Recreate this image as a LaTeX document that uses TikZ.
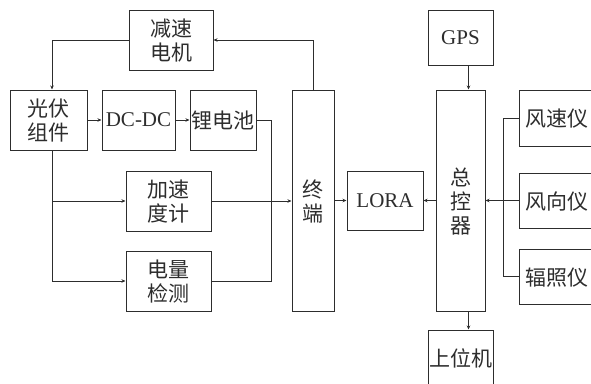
\documentclass[tikz,border=0pt]{standalone}
\usepackage{fontspec}
\setmainfont{Liberation Serif}
\newfontfamily\cjk{Noto Sans CJK SC}
\usetikzlibrary{arrows.meta}
\definecolor{ink}{RGB}{45,45,45}
\begin{document}
\begin{tikzpicture}[x=1pt,y=-1pt,
  box/.style={draw=ink, line width=1pt, inner sep=0pt, text=ink, align=center,
    font=\fontsize{21}{24}\selectfont, text depth=0pt},
  wire/.style={draw=ink, line width=1pt},
  arr/.style={wire, -{Stealth[length=4pt,width=3.5pt]}}]
\useasboundingbox (0,0) rectangle (591,383);
% nodes
\node[box, minimum width=84pt, minimum height=60pt] (jsdj) at (171,40) {\cjk 减速\\\cjk 电机};
\node[box, minimum width=77pt, minimum height=60pt] (gf) at (48.5,120) {\cjk 光伏\\\cjk 组件};
\node[box, minimum width=73pt, minimum height=60pt] (dcdc) at (138.5,120) {DC-DC};
\node[box, minimum width=66pt, minimum height=60pt] (ldc) at (223,120) {\cjk 锂电池};
\node[box, minimum width=85pt, minimum height=60pt] (jsd) at (168.5,201) {\cjk 加速\\\cjk 度计};
\node[box, minimum width=85pt, minimum height=60pt] (dljc) at (168.5,281) {\cjk 电量\\\cjk 检测};
\node[box, minimum width=42pt, minimum height=221pt] (zd) at (313,200.5) {\cjk 终\\\cjk 端};
\node[box, minimum width=76pt, minimum height=59pt] (lora) at (385,200.5) {LORA};
\node[box, minimum width=65pt, minimum height=55pt] (gps) at (460.5,37.5) {GPS};
\node[box, minimum width=49pt, minimum height=221pt] (zkq) at (460.5,200.5) {\cjk 总\\\cjk 控\\\cjk 器};
\node[box, minimum width=75pt, minimum height=56pt] (fsy) at (556.5,118) {\cjk 风速仪};
\node[box, minimum width=75pt, minimum height=55pt] (fxy) at (556.5,200.5) {\cjk 风向仪};
\node[box, minimum width=75pt, minimum height=55pt] (fzy) at (556.5,276.5) {\cjk 辐照仪};
\node[box, minimum width=65pt, minimum height=56pt] (swj) at (460.5,358) {\cjk 上位机};
% helper coordinates
\coordinate (gfs) at ([xshift=3.5pt]gf.south);
\coordinate (gfn) at ([xshift=3.5pt]gf.north);
\coordinate (br) at (gfs |- jsd.west);
\coordinate (j) at (271,201);
\coordinate (rb) at (503,118);
% connectors
\draw[arr] (jsdj.west) -| (gfn);
\draw[arr] (zd.north) |- (jsdj.east);
\draw[arr] (gf.east) -- (dcdc.west);
\draw[arr] (dcdc.east) -- (ldc.west);
\draw[wire] (ldc.east) -| (j);
\draw[arr] (gfs) |- (dljc.west);
\draw[arr] (br) -- (jsd.west);
\draw[arr] (jsd.east) -- (jsd.east -| zd.west);
\draw[wire] (dljc.east) -| (j);
\draw[arr] (zd.east) -- (lora.west);
\draw[arr] (zkq.west) -- (lora.east);
\draw[arr] ([xshift=8pt]gps.south) -- ([xshift=8pt]zkq.north);
\draw[arr] ([xshift=8pt]zkq.south) -- ([xshift=8pt]swj.north);
\draw[wire] (fsy.west) -| (rb) |- (fzy.west);
\draw[arr] (fxy.west) -- (zkq.east);
\end{tikzpicture}
\end{document}
